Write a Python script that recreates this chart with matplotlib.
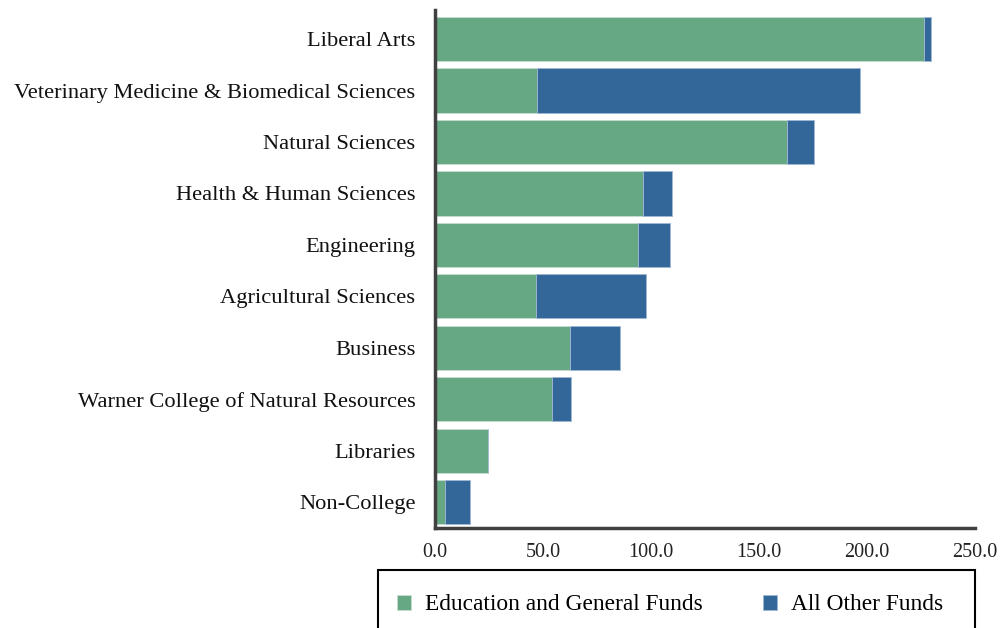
import numpy as np
import matplotlib
matplotlib.use('Agg')
import matplotlib.pyplot as plt
from matplotlib.patches import Rectangle

# college names, top to bottom
colleges = ['Liberal Arts', 'Veterinary Medicine & Biomedical Sciences', 'Natural Sciences',
            'Health & Human Sciences', 'Engineering', 'Agricultural Sciences', 'Business',
            'Warner College of Natural Resources', 'Libraries', 'Non-College']

# millions of dollars
eg_funds = [226.4, 47.3, 163.1, 96.2, 94.0, 46.7, 62.4, 54.1, 24.5, 4.9]
other_funds = [3.1, 149.5, 12.6, 13.7, 14.9, 50.9, 23.2, 9.0, 0.0, 11.5]

xticks = [0, 50, 100, 150, 200, 250]

green = '#66A883'
blue = '#336699'
spine_col = '#404040'

plt.rcParams['font.family'] = ['Liberation Serif', 'DejaVu Serif']

fig = plt.figure(figsize=(10.02, 6.28), dpi=100)
ax = fig.add_axes([0.434, 0.159, 0.539, 0.825])

y = np.arange(len(colleges))
ax.barh(y, eg_funds, height=0.86, color=green, edgecolor='#c8dcd0', linewidth=0.6,
        label='Education and General Funds')
ax.barh(y, other_funds, left=eg_funds, height=0.86, color=blue, edgecolor='#9fb8d4',
        linewidth=0.6, label='All Other Funds')

ax.set_ylim(9.506, -0.564)
ax.set_xlim(0, 250)
ax.set_yticks(y)
ax.set_yticklabels(colleges, fontsize=16.2, color='#111111')
ax.set_xticks(xticks)
ax.set_xticklabels([f'{v:.1f}' for v in xticks], fontsize=14.5, color='#222222')
ax.tick_params(axis='both', length=0)
ax.tick_params(axis='y', pad=14)
ax.tick_params(axis='x', pad=11)

for s in ['top', 'right']:
    ax.spines[s].set_visible(False)
for s in ['left', 'bottom']:
    ax.spines[s].set_color(spine_col)
    ax.spines[s].set_linewidth(2.5)

# legend box running off the bottom of the figure
fig.patches.append(Rectangle((378 / 1002, -0.05), (975 - 378) / 1002, 0.05 + (628 - 570) / 628,
                             transform=fig.transFigure, fill=False, edgecolor='black',
                             linewidth=1.5))
handles, labels = ax.get_legend_handles_labels()
fig.legend(handles, labels, loc='center left', bbox_to_anchor=(376 / 1002, 1 - 605 / 628),
           ncol=2, frameon=False, fontsize=16.8, handlelength=0.6, handleheight=0.6,
           handletextpad=0.6, columnspacing=2.6)

fig.savefig('out.png', dpi=100)
